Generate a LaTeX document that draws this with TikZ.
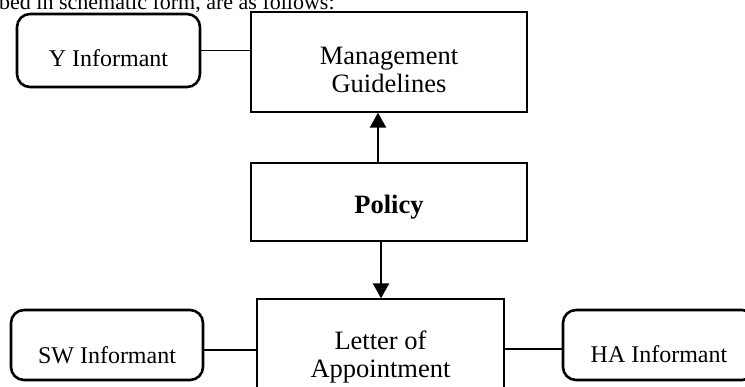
\documentclass[tikz,border=0pt]{standalone}
\usepackage{fontspec}
\setmainfont{Liberation Serif}
\usetikzlibrary{arrows.meta, positioning}

\begin{document}
\begin{tikzpicture}[
  x=0.5pt, y=0.5pt,
  >={Triangle[length=7.5pt, width=8pt]},
  informant/.style={draw, line width=1.3pt, rounded corners=6.5pt, inner sep=0pt,
                    text height=26pt, text depth=9pt, font=\fontsize{12}{14}\selectfont},
  stage/.style={draw, line width=0.65pt, inner sep=0pt, minimum width=138pt, align=center,
                font=\fontsize{13.25}{14}\selectfont},
  link/.style={line width=0.6pt},
  flow/.style={->, line width=1.15pt},
]
\useasboundingbox (0,0) rectangle (745,-386);
\clip (0,0) rectangle (745,-386);
% running text above the scheme
\node[anchor=base east, inner sep=0pt, font=\fontsize{11}{13}\selectfont] (intro) at (335,-9)
      {described in schematic form, are as follows:};
% central column
\node[stage, text height=40pt, text depth=10pt] (mgmt) at (389,-62) {Management\\Guidelines};
\node[stage, text height=25pt, text depth=14pt, font=\fontsize{13.25}{14}\selectfont\bfseries]
      (policy) at (389,-202) {Policy};
\node[stage, minimum width=123.5pt, text height=39pt, text depth=19pt]
      (letter) at (380.5,-357) {Letter of\\Appointment};
% informants
\node[informant, minimum width=91.5pt, text depth=10.5pt] (yinf) at (108.5,-50.5) {Y Informant};
\node[informant, minimum width=96pt, text height=26.5pt, text depth=8.5pt] (swinf) at (107,-345) {SW Informant};
\node[informant, minimum width=96pt] (hainf) at (659,-345) {HA Informant};
% arrows from policy
\draw[flow] ([xshift=-5.5pt]policy.north) -- ([xshift=-5.5pt]policy.north |- mgmt.south);
\draw[flow] ([xshift=-4pt]policy.south) -- ([xshift=-4pt]policy.south |- letter.north);
% informant links
\draw[link] (yinf.east) -- (yinf.east -| mgmt.west);
\draw[link] ([yshift=-2.5pt]swinf.east) -- ([yshift=-2.5pt]swinf.east -| letter.west);
\draw[link] ([yshift=-2pt]hainf.west) -- ([yshift=-2pt]hainf.west -| letter.east);
\end{tikzpicture}
\end{document}
